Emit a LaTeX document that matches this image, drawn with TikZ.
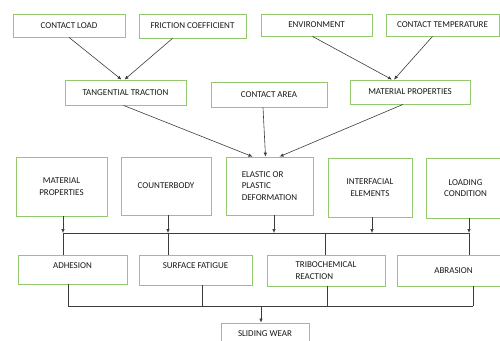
\documentclass[tikz,border=0pt]{standalone}
\usepackage{fontspec}
\setmainfont{Carlito}
\usetikzlibrary{positioning, arrows.meta, calc}
\definecolor{boxgreen}{RGB}{146,200,110}
\definecolor{wire}{RGB}{60,60,60}

\begin{document}
\begin{tikzpicture}[
                x=1pt, y=-1pt,
                >={Latex[length=4pt, width=3.5pt]},
                wear/.style={draw=wire, line width=0.6pt},
                block/.style={draw=boxgreen, line width=0.8pt, fill=white, text=black!90, inner sep=2pt, align=center, font=\fontsize{9}{11.5}\selectfont},
            ]
                \useasboundingbox (0,0) rectangle (500,340);

                % Draw the top row of influences
                \node[block, minimum width=112pt, minimum height=23pt] (cload) at (69,25.5) {CONTACT LOAD};
                \node[block, minimum width=107pt, minimum height=24pt] (fric) at (192.5,26) {FRICTION COEFFICIENT};
                \node[block, minimum width=111pt, minimum height=22pt] (env) at (316.5,25) {ENVIRONMENT};
                \node[block, minimum width=113pt, minimum height=22pt] (ctemp) at (442.5,25) {CONTACT TEMPERATURE};

                % Draw the second row
                \node[block, minimum width=121pt, minimum height=25pt] (tang) at (125.5,92.5) {TANGENTIAL TRACTION};
                \node[block, minimum width=116pt, minimum height=25pt] (carea) at (269,94.5) {CONTACT AREA};
                \node[block, minimum width=120pt, minimum height=24pt] (matprop) at (410,92) {MATERIAL PROPERTIES};

                % Draw the row of system parameters
                \node[block, minimum width=91pt, minimum height=59pt] (mprop) at (61.5,186.5) {MATERIAL\\PROPERTIES};
                \node[block, minimum width=90pt, minimum height=58pt] (counter) at (166,186) {COUNTERBODY};
                \node[block, minimum width=87pt, minimum height=58pt, align=left] (elastic) at (269.5,186) {ELASTIC OR\\PLASTIC\\DEFORMATION};
                \node[block, minimum width=84pt, minimum height=59pt] (inter) at (370,187.5) {INTERFACIAL\\ELEMENTS};
                \node[block, minimum width=79pt, minimum height=60pt] (loadcond) at (465.5,188) {LOADING\\CONDITION};

                % Draw the wear mechanisms
                \node[block, minimum width=109pt, minimum height=29pt, text depth=8pt] (adh) at (72.5,269.5) {ADHESION};
                \node[block, minimum width=113pt, minimum height=30pt, text depth=8pt] (surf) at (195.5,270) {SURFACE FATIGUE};
                \node[block, minimum width=118pt, minimum height=31pt, align=left] (tribo) at (326,270.5) {TRIBOCHEMICAL\\REACTION};
                \node[block, minimum width=113pt, minimum height=31pt] (abr) at (453.5,270.5) {ABRASION};

                % Draw the result
                \node[block, minimum width=88pt, minimum height=22pt] (sliding) at (265,334) {SLIDING WEAR};

                % Connect the top row with the second row
                \draw[wear,->] (cload.south) -- ([xshift=-4pt]tang.north);
                \draw[wear,->] ([xshift=-20pt]fric.south) -- ([xshift=-1pt]tang.north);
                \draw[wear,->] ([xshift=-4pt]env.south) -- ([xshift=-18pt]matprop.north);
                \draw[wear,->] ([xshift=-10pt]ctemp.south) -- ([xshift=-16pt]matprop.north);

                % Connect the second row with the deformation
                \draw[wear,->] ([xshift=-2pt]tang.south) -- ([xshift=-17pt]elastic.north);
                \draw[wear,->] ([xshift=-6pt]carea.south) -- ([xshift=-4pt]elastic.north);
                \draw[wear,->] ([xshift=-7pt]matprop.south) -- ([xshift=10pt]elastic.north);

                % Collect the parameters on one line
                \coordinate (busA) at (63,233);
                \coordinate (busB) at (469,233);
                \draw[wear] (busA) -- (busB);
                \foreach \name / \dx in {mprop/1.5, counter/2, elastic/4.5, inter/2, loadcond/3.5}
                    \draw[wear,->] ([xshift=\dx pt]\name.south) -- ([xshift=\dx pt]\name.south |- busA);
                \foreach \name / \dx in {adh/-9.5, surf/-27.5, tribo/-1, abr/15.5}
                    \draw[wear] ([xshift=\dx pt]\name.north |- busA) -- ([xshift=\dx pt]\name.north);

                % Collect the mechanisms into the result
                \coordinate (busC) at (68,306);
                \coordinate (busD) at (473,306);
                \draw[wear] (busC) -- (busD);
                \foreach \name / \dx in {adh/-4.5, surf/6.5, tribo/1, abr/19.5}
                    \draw[wear] ([xshift=\dx pt]\name.south) -- ([xshift=\dx pt]\name.south |- busC);
                \draw[wear,->] ([xshift=-4pt]sliding.north |- busC) -- ([xshift=-4pt]sliding.north);
            \end{tikzpicture}
\end{document}
